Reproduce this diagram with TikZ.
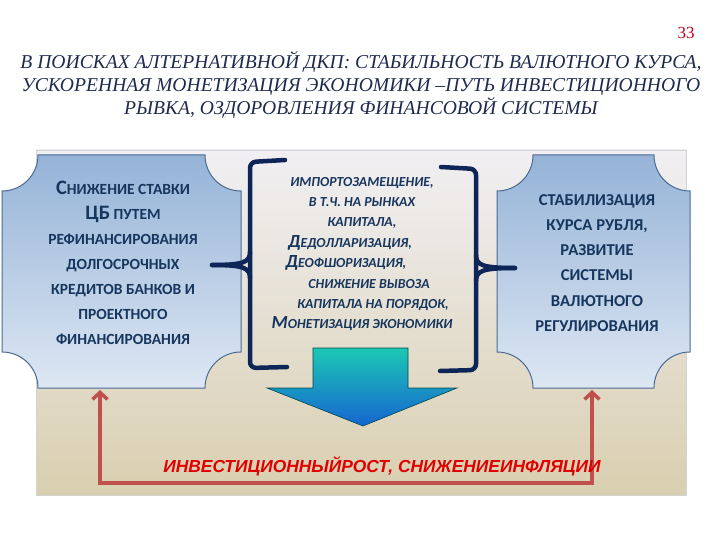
\documentclass[tikz,border=0pt]{standalone}
\usepackage{fontspec}
\setmainfont{Carlito}
\newfontfamily\titlefont{Liberation Serif}
\newfontfamily\slogfont{Liberation Sans}
\usetikzlibrary{arrows.meta,positioning}

\definecolor{navy}{HTML}{17365D}
\definecolor{bracecol}{HTML}{0E2657}
\definecolor{titlecol}{HTML}{1F2A4F}
\definecolor{boxtop}{HTML}{95B3D7}
\definecolor{boxbot}{HTML}{DDE7F3}
\definecolor{boxline}{HTML}{4A6A94}
\definecolor{bgtop}{HTML}{F1EFF3}
\definecolor{bgmid}{HTML}{ECE5D6}
\definecolor{bgbot}{HTML}{D9CFB0}
\definecolor{fbred}{HTML}{C0504D}
\definecolor{txtred}{HTML}{E00000}
\definecolor{pagered}{HTML}{C0001A}
\definecolor{arrtop}{HTML}{1CC8B4}
\definecolor{arrmid}{HTML}{22B4E4}
\definecolor{arrbot}{HTML}{1565D0}

% box with concave corners: x1 y1 x2 y2
\newcommand{\plaque}[4]{%
  \shade[top color=boxtop,bottom color=boxbot,draw=boxline,line width=1pt]
    (#1+36,#2) -- (#3-36,#2) .. controls (#3-36,#2+20) and (#3-20,#2+36) .. (#3,#2+36)
    -- (#3,#4-36) .. controls (#3-20,#4-36) and (#3-36,#4-20) .. (#3-36,#4)
    -- (#1+36,#4) .. controls (#1+36,#4-20) and (#1+20,#4-36) .. (#1,#4-36)
    -- (#1,#2+36) .. controls (#1+20,#2+36) and (#1+36,#2+20) .. cycle;}
\newcommand{\initcap}[1]{{\fontsize{20.5}{25}\selectfont #1}}
\newcommand{\midcap}[1]{{\fontsize{18.5}{20}\selectfont #1}}

\tikzset{
  lefttext/.style={align=center, text=navy, font=\bfseries\fontsize{15.5}{25}\selectfont},
  righttext/.style={align=center, text=navy, font=\bfseries\fontsize{16.6}{25.2}\selectfont},
  midtext/.style={align=center, text=navy, font=\bfseries\itshape\fontsize{13.8}{20.4}\selectfont},
  titletext/.style={align=center, text=titlecol, font=\titlefont\itshape\fontsize{19.6}{23}\selectfont},
  brace/.style={draw=bracecol, line width=4.5pt, line cap=round, line join=round},
  feedback/.style={draw=fbred, line width=3.5pt, arrows={Straight Barb[length=7pt,width=15pt]-Straight Barb[length=7pt,width=15pt]}}
}

\begin{document}
\begin{tikzpicture}[x=1pt,y=-1pt]
\useasboundingbox[fill=white] (0,0) rectangle (720,540);

% background panel
\shade[top color=bgtop, middle color=bgmid, bottom color=bgbot, draw=gray!35] (36,150) rectangle (686,495);

\node[text=pagered, font=\titlefont\fontsize{17}{18}\selectfont] (pnum) at (686,33) {33};
\node[titletext] (title) at (361,85) {В ПОИСКАХ АЛТЕРНАТИВНОЙ ДКП: СТАБИЛЬНОСТЬ ВАЛЮТНОГО КУРСА,\\
  УСКОРЕННАЯ МОНЕТИЗАЦИЯ ЭКОНОМИКИ –ПУТЬ ИНВЕСТИЦИОННОГО\\
  РЫВКА, ОЗДОРОВЛЕНИЯ ФИНАНСОВОЙ СИСТЕМЫ};

\plaque{2}{155}{241}{388}
\plaque{497}{155}{690}{388}

\node[lefttext] (ltext) at (123,263) {\initcap{С}НИЖЕНИЕ СТАВКИ\\ \initcap{ЦБ} ПУТЕМ\\ РЕФИНАНСИРОВАНИЯ\\
  ДОЛГОСРОЧНЫХ\\ КРЕДИТОВ БАНКОВ И\\ ПРОЕКТНОГО\\ ФИНАНСИРОВАНИЯ};
\node[righttext] (rtext) at (597,263) {СТАБИЛИЗАЦИЯ\\ КУРСА РУБЛЯ,\\ РАЗВИТИЕ\\ СИСТЕМЫ\\ ВАЛЮТНОГО\\ РЕГУЛИРОВАНИЯ};
\node[midtext] (mtext) at (362,254) {ИМПОРТОЗАМЕЩЕНИЕ,\\ В Т.Ч. НА РЫНКАХ\\ КАПИТАЛА,\\
  \midcap{Д}ЕДОЛЛАРИЗАЦИЯ,\mbox{\hspace{24pt}}\\ \midcap{Д}ЕОФШОРИЗАЦИЯ,\mbox{\hspace{32pt}}\\
  \mbox{\hspace{14pt}}СНИЖЕНИЕ ВЫВОЗА\\ \mbox{\hspace{22pt}}КАПИТАЛА НА ПОРЯДОК,\\ \midcap{М}ОНЕТИЗАЦИЯ ЭКОНОМИКИ};

% brackets
\coordinate (ltip) at (212,265);
\coordinate (rtip) at (515,268);
\draw[brace, rounded corners=6pt] (285,160) -- (250,162) -- (250,368) -- (287,367);
\draw[brace] (250,252) .. controls (250,262) and (244,265) .. (ltip);
\draw[brace] (250,278) .. controls (250,268) and (244,265) .. (ltip);
\draw[brace, rounded corners=6pt] (441,167) -- (476,169) -- (476,370) -- (440,371);
\draw[brace] (476,255) .. controls (476,265) and (482,268) .. (rtip);
\draw[brace] (476,281) .. controls (476,271) and (482,268) .. (rtip);

% down arrow
\shade[top color=arrtop, middle color=arrmid, bottom color=arrbot, draw=teal!55!black, line width=.6pt]
  (313,348) -- (408,348) -- (408,388) -- (457,388) -- (363,426) -- (267,388) -- (313,388) -- cycle;

% feedback loop
\coordinate (lfoot) at (100,390);
\coordinate (rfoot) at (592,390);
\coordinate (fbbase) at (0,483);
\draw[feedback] (lfoot) -- (lfoot |- fbbase) -- (rfoot |- fbbase) -- (rfoot);

\node[text=txtred, font=\slogfont\bfseries\itshape\fontsize{17.4}{18}\selectfont] (growth) at (382,466) {ИНВЕСТИЦИОННЫЙРОСТ, СНИЖЕНИЕИНФЛЯЦИИ};
\end{tikzpicture}
\end{document}
